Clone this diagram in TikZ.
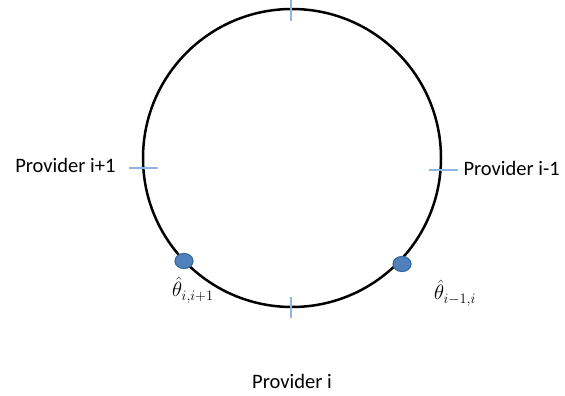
\documentclass[tikz,border=0pt]{standalone}
\usepackage{fontspec}
\setmainfont{Carlito}
\usepackage{amsmath}
\usetikzlibrary{shapes.geometric}
\definecolor{ringink}{HTML}{000000}
\definecolor{tickblue}{HTML}{8EB4E3}
\definecolor{dotfill}{HTML}{4F81BD}
\definecolor{dotedge}{HTML}{3A6A9E}

\begin{document}
\begin{tikzpicture}[x=1pt, y=-1pt,
                    every node/.style={ringink, font=\fontsize{20.5}{24}\selectfont},
                    tickline/.style={tickblue, line width=1.1pt},
                    estimate/.style={ellipse, draw=dotedge, fill=dotfill, line width=1.2pt,
                                     minimum width=18pt, minimum height=15pt, inner sep=0pt}]
  \useasboundingbox (0,0) rectangle (565,396);

  %% 圓環
  \draw[ringink, line width=2.5pt] (292,158) circle (149);

  %% 刻度
  \draw[tickline] (291,0) -- (291,21);
  \draw[tickline] (291,297) -- (291,318);
  \draw[tickline] (129,168) -- (158,168);
  \draw[tickline] (429,170) -- (458,170);

  %% 各供應者
  \node[anchor=east] (provnext) at (119,165) {Provider i+1};
  \node[anchor=west] (provprev) at (460,168) {Provider i-1};
  \node (provself) at (292,381) {Provider i};

  %% 估計點
  \node[estimate] (estnext) at (184,261) {};
  \node[estimate] (estprev) at (402,264) {};
  \node (labnext) at (193,290) {$\hat{\theta}_{i,i+1}$};
  \node (labprev) at (455,293) {$\hat{\theta}_{i-1,i}$};

\end{tikzpicture}
\end{document}
